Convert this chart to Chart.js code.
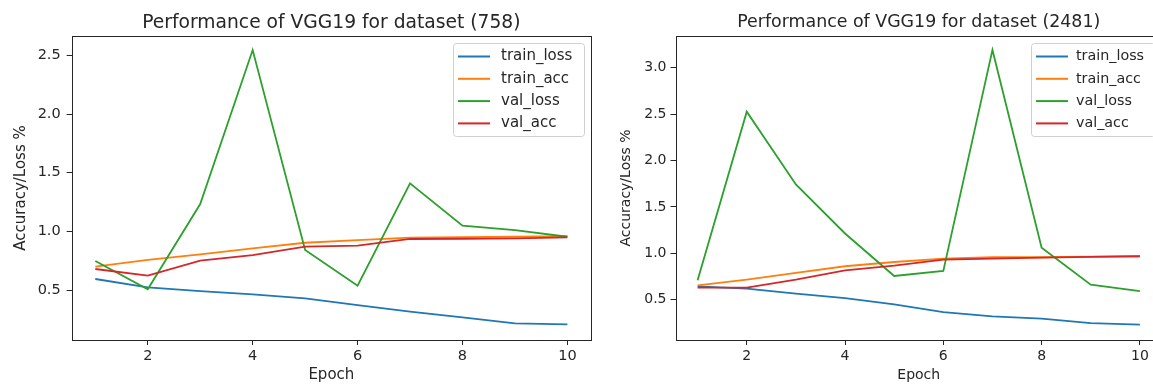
<!DOCTYPE html>
<html>
<head>
<meta charset="utf-8">
<script src="https://cdn.jsdelivr.net/npm/chart.js@4.4.1/dist/chart.umd.min.js"></script>
<style>
body{margin:0;background:#fff;overflow:hidden;width:1153px;height:385px;position:relative}
canvas{position:absolute;top:0}
</style>
</head>
<body>
<canvas id="left" width="596" height="385" style="left:0"></canvas>
<canvas id="right" width="600" height="385" style="left:576px"></canvas>
<script>

let epochs = [1,2,3,4,5,6,7,8,9,10]
let xTicks = [2,4,6,8,10]
let seriesNames = ["train_loss","train_acc","val_loss","val_acc"]
let colors = ["#1f77b4","#ff7f0e","#2ca02c","#d62728"]

/* dataset (758) */
let trainLoss758 = [0.594,0.523,0.49,0.463,0.429,0.372,0.315,0.267,0.216,0.208]
let trainAcc758  = [0.699,0.756,0.804,0.855,0.903,0.926,0.946,0.951,0.955,0.96]
let valLoss758   = [0.747,0.506,1.233,2.545,0.841,0.537,1.409,1.048,1.011,0.954]
let valAcc758    = [0.679,0.622,0.75,0.798,0.869,0.878,0.935,0.937,0.94,0.949]
let yTicks758 = [0.5,1.0,1.5,2.0,2.5]

/* dataset (2481) */
let trainLoss2481 = [0.644,0.619,0.565,0.517,0.449,0.366,0.32,0.295,0.247,0.23]
let trainAcc2481  = [0.654,0.716,0.788,0.86,0.906,0.943,0.957,0.957,0.964,0.968]
let valLoss2481   = [0.708,2.526,1.742,1.213,0.755,0.809,3.192,1.061,0.662,0.593]
let valAcc2481    = [0.63,0.63,0.716,0.816,0.867,0.932,0.943,0.954,0.96,0.968]
let yTicks2481 = [0.5,1.0,1.5,2.0,2.5,3.0]

const FONT = "'DejaVu Sans', sans-serif"
const INK = "#262626"

/* matplotlib style box: all four spines */
const framePlugin = {
id: "frame",
afterDatasetsDraw(chart){
let a = chart.chartArea
let ctx = chart.ctx
ctx.save()
ctx.strokeStyle = INK
ctx.lineWidth = 1
ctx.strokeRect(Math.round(a.left)+0.5, Math.round(a.top)+0.5, Math.round(a.right-a.left), Math.round(a.bottom-a.top))
ctx.restore()
}
}

/* legend box in upper right corner */
const boxLegend = {
id: "boxLegend",
afterDraw(chart, args, o){
let ctx = chart.ctx
let a = chart.chartArea
let x = a.right - 7 - o.width
let y = 43
ctx.save()
ctx.fillStyle = "rgba(255,255,255,0.85)"
ctx.strokeStyle = "#d0d0d0"
ctx.lineWidth = 1
ctx.beginPath()
ctx.roundRect(Math.round(x)+0.5, y+0.5, o.width, 93, 3)
ctx.fill()
ctx.stroke()
ctx.font = o.size + "px " + FONT
ctx.textBaseline = "middle"
chart.data.datasets.forEach((ds, i) => {
let ly = y + 13.5 + i*22.3
ctx.strokeStyle = ds.borderColor
ctx.lineWidth = 2
ctx.beginPath()
ctx.moveTo(x+5, ly)
ctx.lineTo(x+37, ly)
ctx.stroke()
ctx.fillStyle = INK
ctx.fillText(ds.label, x+o.textOffset, ly)
})
ctx.restore()
}
}

function makeChart(id, cfg){

let sets = cfg.series.map((vals, i) => ({
label: seriesNames[i],
data: vals,
borderColor: colors[i],
backgroundColor: colors[i],
borderWidth: 1.8,
pointRadius: 0,
tension: 0,
order: 3 - i
}))

return new Chart(document.getElementById(id), {
type: "line",
data: { labels: epochs, datasets: sets },
plugins: [framePlugin, boxLegend],
options: {
responsive: false,
animation: false,
events: [],
layout: { padding: { left: 0, right: cfg.padRight, top: 0, bottom: 0 } },
plugins: {
legend: { display: false },
tooltip: { enabled: false },
title: {
display: true,
fullSize: false,
text: cfg.title,
color: INK,
font: { family: FONT, size: cfg.titleSize, weight: "normal", lineHeight: 1.2 },
padding: { top: 12, bottom: 36 - 12 - cfg.titleSize*1.2 }
},
boxLegend: { width: cfg.legendWidth, size: cfg.legendSize, textOffset: cfg.textOffset }
},
scales: {
x: {
type: "linear",
min: 0.55,
max: 10.45,
afterBuildTicks: s => { s.ticks = xTicks.map(v => ({ value: v })) },
afterFit: s => { s.height = 45 },
ticks: { color: INK, padding: 3, maxRotation: 0, font: { family: FONT, size: cfg.tickSize }, callback: v => String(v) },
grid: { drawOnChartArea: false, drawTicks: true, tickLength: 5, tickColor: INK },
border: { display: false },
title: { display: true, text: "Epoch", color: INK, font: { family: FONT, size: cfg.labelSize, lineHeight: 1.2 }, padding: { top: 0, bottom: 1 } }
},
y: {
type: "linear",
min: cfg.yMin,
max: cfg.yMax,
afterBuildTicks: s => { s.ticks = cfg.yTicks.map(v => ({ value: v })) },
afterFit: s => { s.width = cfg.axisWidth },
ticks: { color: INK, padding: cfg.tickPad, font: { family: FONT, size: cfg.tickSize }, callback: v => v.toFixed(1) },
grid: { drawOnChartArea: false, drawTicks: true, tickLength: 5, tickColor: INK },
border: { display: false },
title: { display: true, text: "Accuracy/Loss %", color: INK, font: { family: FONT, size: cfg.labelSize, lineHeight: 1.2 }, padding: { top: cfg.yTitlePad, bottom: 0 } }
}
}
}
})
}

makeChart("left", {
title: "Performance of VGG19 for dataset (758)",
series: [trainLoss758, trainAcc758, valLoss758, valAcc758],
yMin: 0.074, yMax: 2.665, yTicks: yTicks758,
axisWidth: 71.7, padRight: 5,
titleSize: 18.7, tickSize: 14.5, labelSize: 15, tickPad: 6, yTitlePad: 11.7,
legendWidth: 131, legendSize: 15, textOffset: 48
})

makeChart("right", {
title: "Performance of VGG19 for dataset (2481)",
series: [trainLoss2481, trainAcc2481, valLoss2481, valAcc2481],
yMin: 0.065, yMax: 3.342, yTicks: yTicks2481,
axisWidth: 99.5, padRight: 14,
titleSize: 17.4, tickSize: 14, labelSize: 14, tickPad: 4, yTitlePad: 42.3,
legendWidth: 124, legendSize: 14.3, textOffset: 45
})

</script>
</body>
</html>
